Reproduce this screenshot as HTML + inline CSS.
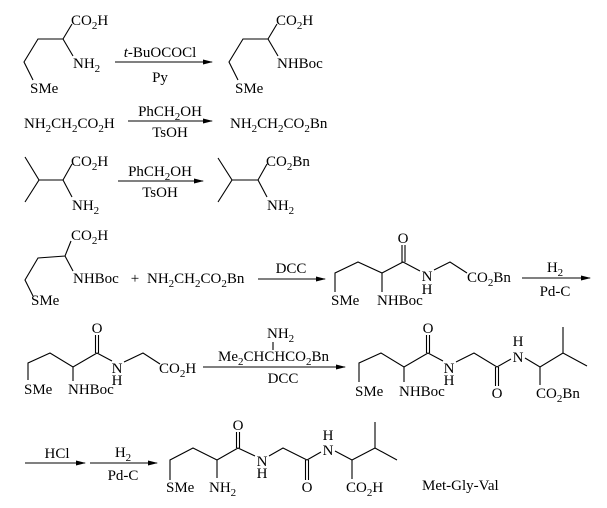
<!DOCTYPE html>
<html><head><meta charset="utf-8"><style>
html,body{margin:0;padding:0;background:#fff;}
svg{display:block;}
svg text{font-family:"Liberation Serif","Times New Roman","DejaVu Serif",serif !important;font-size:15px;fill:#000;}
svg text tspan.s{font-size:11px;}
line,polyline{stroke:#000;stroke-width:1.1;fill:none;}
</style></head><body>
<svg width="607" height="508" viewBox="0 0 607 508" xmlns="http://www.w3.org/2000/svg" font-family="Liberation Serif, DejaVu Serif, serif">
<defs><marker id="a" markerWidth="10" markerHeight="6" refX="9" refY="3" orient="auto" markerUnits="userSpaceOnUse"><path d="M0,0.5 L10,3 L0,5.5 Z" fill="#000"/></marker></defs>

<!-- Row 1 -->
<polyline points="33,80 24,62 38,39 63,39 72,24"/><line x1="63" y1="39" x2="73" y2="56"/>
<text x="71" y="25">CO<tspan class="s" dy="4">2</tspan><tspan dy="-4">H</tspan></text>
<text x="73" y="68">NH<tspan class="s" dy="4">2</tspan></text>
<text x="30" y="93">SMe</text>
<line x1="115" y1="62" x2="212" y2="62" marker-end="url(#a)"/>
<text x="160" y="57" text-anchor="middle"><tspan font-style="italic">t</tspan>-BuOCOCl</text>
<text x="160" y="82" text-anchor="middle">Py</text>
<polyline points="238,80 229,62 243,39 268,39 277,24"/><line x1="268" y1="39" x2="278" y2="56"/>
<text x="276" y="25">CO<tspan class="s" dy="4">2</tspan><tspan dy="-4">H</tspan></text>
<text x="277" y="68">NHBoc</text>
<text x="235" y="93">SMe</text>

<!-- Row 2 -->
<text x="24" y="128">NH<tspan class="s" dy="4">2</tspan><tspan dy="-4">CH</tspan><tspan class="s" dy="4">2</tspan><tspan dy="-4">CO</tspan><tspan class="s" dy="4">2</tspan><tspan dy="-4">H</tspan></text>
<line x1="128" y1="121" x2="212" y2="121" marker-end="url(#a)"/>
<text x="170" y="116" text-anchor="middle">PhCH<tspan class="s" dy="4">2</tspan><tspan dy="-4">OH</tspan></text>
<text x="170" y="137" text-anchor="middle">TsOH</text>
<text x="230" y="128">NH<tspan class="s" dy="4">2</tspan><tspan dy="-4">CH</tspan><tspan class="s" dy="4">2</tspan><tspan dy="-4">CO</tspan><tspan class="s" dy="4">2</tspan><tspan dy="-4">Bn</tspan></text>

<!-- Row 3 -->
<polyline points="25,157 39,180 25,202"/><polyline points="39,180 63,180 72,164"/><line x1="63" y1="180" x2="72" y2="197"/>
<text x="71" y="166">CO<tspan class="s" dy="4">2</tspan><tspan dy="-4">H</tspan></text>
<text x="72" y="210">NH<tspan class="s" dy="4">2</tspan></text>
<line x1="118" y1="181" x2="203" y2="181" marker-end="url(#a)"/>
<text x="160" y="176" text-anchor="middle">PhCH<tspan class="s" dy="4">2</tspan><tspan dy="-4">OH</tspan></text>
<text x="160" y="197" text-anchor="middle">TsOH</text>
<polyline points="218,158 232,180 218,202"/><polyline points="232,180 258,180 267,164"/><line x1="258" y1="180" x2="267" y2="197"/>
<text x="266" y="166">CO<tspan class="s" dy="4">2</tspan><tspan dy="-4">Bn</tspan></text>
<text x="267" y="210">NH<tspan class="s" dy="4">2</tspan></text>

<!-- Row 4 -->
<polyline points="33,296 25,280 38,258 65,256 71,241"/><line x1="65" y1="256" x2="73" y2="271"/>
<text x="71" y="240">CO<tspan class="s" dy="4">2</tspan><tspan dy="-4">H</tspan></text>
<text x="73" y="283">NHBoc</text>
<text x="31" y="305">SMe</text>
<text x="135" y="283" text-anchor="middle">+</text>
<text x="147" y="283">NH<tspan class="s" dy="4">2</tspan><tspan dy="-4">CH</tspan><tspan class="s" dy="4">2</tspan><tspan dy="-4">CO</tspan><tspan class="s" dy="4">2</tspan><tspan dy="-4">Bn</tspan></text>
<line x1="258" y1="279" x2="325" y2="279" marker-end="url(#a)"/>
<text x="291" y="273" text-anchor="middle">DCC</text>
<polyline points="335,292 335,273 358,262 382,273 403,262 420,271"/>
<line x1="382" y1="273" x2="382" y2="292"/>
<line x1="402" y1="262" x2="402" y2="245"/><line x1="405" y1="262" x2="405" y2="245"/>
<text x="403" y="243" text-anchor="middle">O</text>
<text x="427" y="281" text-anchor="middle">N</text>
<text x="427" y="294" text-anchor="middle">H</text>
<polyline points="434,270 450,262 467,273"/>
<text x="467" y="282">CO<tspan class="s" dy="4">2</tspan><tspan dy="-4">Bn</tspan></text>
<text x="331" y="305">SMe</text>
<text x="377" y="305">NHBoc</text>
<line x1="522" y1="278" x2="590" y2="278" marker-end="url(#a)"/>
<text x="555" y="272" text-anchor="middle">H<tspan class="s" dy="4">2</tspan></text>
<text x="555" y="296" text-anchor="middle">Pd-C</text>

<!-- Row 5 left -->
<polyline points="28,380 28,363 50,353 73,367 97,353 112,361"/>
<line x1="73" y1="367" x2="73" y2="381"/>
<line x1="95.5" y1="353" x2="95.5" y2="335"/><line x1="98.5" y1="353" x2="98.5" y2="335"/>
<text x="97" y="333" text-anchor="middle">O</text>
<text x="117" y="373" text-anchor="middle">N</text>
<text x="117" y="385" text-anchor="middle">H</text>
<polyline points="124,362 143,353 160,364"/>
<text x="159" y="373">CO<tspan class="s" dy="4">2</tspan><tspan dy="-4">H</tspan></text>
<text x="24" y="394">SMe</text>
<text x="68" y="394">NHBoc</text>
<line x1="203" y1="367" x2="345" y2="367" marker-end="url(#a)"/>
<text x="267" y="338">NH<tspan class="s" dy="4">2</tspan></text>
<line x1="273" y1="342" x2="273" y2="350"/>
<text x="218" y="361">Me<tspan class="s" dy="4">2</tspan><tspan dy="-4">CHCHCO</tspan><tspan class="s" dy="4">2</tspan><tspan dy="-4">Bn</tspan></text>
<text x="283" y="383" text-anchor="middle">DCC</text>

<!-- Row 5 right -->
<polyline points="359,382 359,363 381,353 404,367 428,353 443,361"/>
<line x1="404" y1="367" x2="404" y2="382"/>
<line x1="426.5" y1="353" x2="426.5" y2="335"/><line x1="429.5" y1="353" x2="429.5" y2="335"/>
<text x="428" y="333" text-anchor="middle">O</text>
<text x="449" y="373" text-anchor="middle">N</text>
<text x="449" y="385" text-anchor="middle">H</text>
<polyline points="456,362 474,353 497,367 511,359"/>
<line x1="495.5" y1="367" x2="495.5" y2="386"/><line x1="498.5" y1="367" x2="498.5" y2="386"/>
<text x="497" y="398" text-anchor="middle">O</text>
<text x="518" y="362" text-anchor="middle">N</text>
<text x="518" y="346" text-anchor="middle">H</text>
<polyline points="525,358 540,367 563,353 587,366"/>
<line x1="563" y1="353" x2="563" y2="327"/>
<line x1="540" y1="367" x2="540" y2="385"/>
<text x="536" y="398">CO<tspan class="s" dy="4">2</tspan><tspan dy="-4">Bn</tspan></text>
<text x="355" y="396">SMe</text>
<text x="399" y="396">NHBoc</text>

<!-- Row 6 -->
<line x1="25" y1="463" x2="85" y2="463" marker-end="url(#a)"/>
<text x="57" y="458" text-anchor="middle">HCl</text>
<line x1="90" y1="463" x2="157" y2="463" marker-end="url(#a)"/>
<text x="123" y="457" text-anchor="middle">H<tspan class="s" dy="4">2</tspan></text>
<text x="123" y="480" text-anchor="middle">Pd-C</text>
<polyline points="170,480 170,460 193,448 217,460 238,448 255,456"/>
<line x1="217" y1="460" x2="217" y2="478"/>
<line x1="236.5" y1="448" x2="236.5" y2="432"/><line x1="239.5" y1="448" x2="239.5" y2="432"/>
<text x="238" y="430" text-anchor="middle">O</text>
<text x="262" y="466" text-anchor="middle">N</text>
<text x="262" y="478" text-anchor="middle">H</text>
<polyline points="269,456 283,448 307,460 321,452"/>
<line x1="305.5" y1="460" x2="305.5" y2="480"/><line x1="308.5" y1="460" x2="308.5" y2="480"/>
<text x="307" y="492" text-anchor="middle">O</text>
<text x="328" y="455" text-anchor="middle">N</text>
<text x="328" y="440" text-anchor="middle">H</text>
<polyline points="335,451 352,460 375,448 397,460"/>
<line x1="375" y1="448" x2="375" y2="422"/>
<line x1="352" y1="460" x2="352" y2="479"/>
<text x="346" y="492">CO<tspan class="s" dy="4">2</tspan><tspan dy="-4">H</tspan></text>
<text x="166" y="492">SMe</text>
<text x="209" y="492">NH<tspan class="s" dy="4">2</tspan></text>
<text x="422" y="490">Met-Gly-Val</text>
</svg>
</body></html>
